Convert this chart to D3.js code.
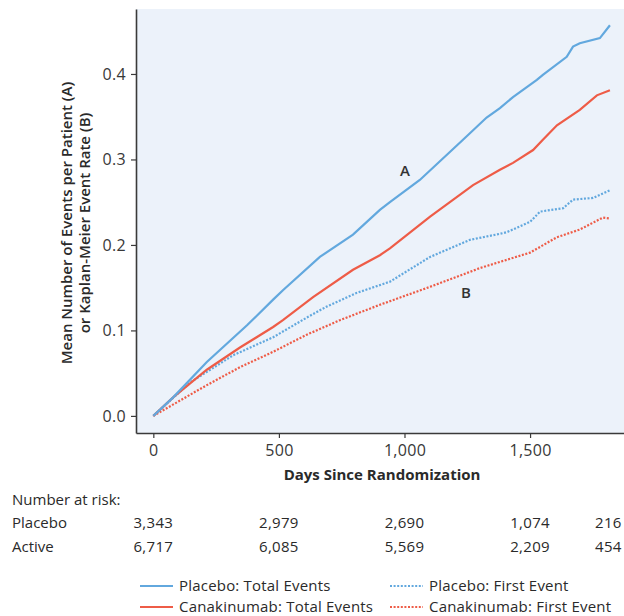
<!DOCTYPE html>
<html>
<head>
<meta charset="utf-8">
<script src="https://cdn.jsdelivr.net/npm/d3@7"></script>
<style>
  body { margin: 0; background: #fff; }
  svg { font-family: "Open Sans", "Noto Sans", sans-serif; }
</style>
</head>
<body>
<svg id="chart" width="624" height="616"></svg>
<script>
// days since randomization / value
const placeboTotal = [
  [0, 0], [80, 0.022], [213, 0.063], [373, 0.106], [477, 0.136], [516, 0.147],
  [663, 0.186], [795, 0.212], [902, 0.241], [942, 0.250], [1061, 0.276],
  [1233, 0.323], [1327, 0.349], [1380, 0.360], [1432, 0.373], [1527, 0.393],
  [1551, 0.399], [1646, 0.420], [1671, 0.432], [1698, 0.436], [1778, 0.442],
  [1818, 0.457]
];
const activeTotal = [
  [0, 0], [80, 0.022], [213, 0.054], [345, 0.080], [477, 0.104], [516, 0.112],
  [636, 0.139], [795, 0.171], [902, 0.188], [942, 0.196], [1102, 0.233],
  [1273, 0.270], [1380, 0.288], [1432, 0.296], [1512, 0.311], [1551, 0.323],
  [1607, 0.340], [1698, 0.358], [1766, 0.375], [1818, 0.381]
];
const placeboFirst = [
  [0, 0], [146, 0.039], [318, 0.071], [477, 0.092], [611, 0.115], [691, 0.128],
  [811, 0.144], [942, 0.157], [1102, 0.186], [1261, 0.206], [1380, 0.213],
  [1408, 0.215], [1500, 0.227], [1540, 0.239], [1632, 0.243], [1671, 0.253],
  [1751, 0.255], [1818, 0.264]
];
const activeFirst = [
  [0, 0], [213, 0.036], [345, 0.057], [477, 0.075], [611, 0.095], [743, 0.112],
  [902, 0.130], [1102, 0.151], [1301, 0.173], [1500, 0.191], [1607, 0.209],
  [1698, 0.218], [1790, 0.232], [1818, 0.231]
];

const xTicks = [0, 500, 1000, 1500];
const yTicks = [0, 0.1, 0.2, 0.3, 0.4];

const riskDays = [0, 500, 1000, 1500, 1812];
const riskPlacebo = ['3,343', '2,979', '2,690', '1,074', '216'];
const riskActive = ['6,717', '6,085', '5,569', '2,209', '454'];

const blue = '#62a8de';
const red = '#ee5c47';
const ink = '#2a2a2a';

const svg = d3.select('#chart');

const x = d3.scaleLinear().domain([-69, 1874]).range([136, 624]);
const y = d3.scaleLinear().domain([-0.02, 0.476]).range([433, 9]);

// plot background
svg.append('rect')
  .attr('x', 136).attr('y', 9)
  .attr('width', 624 - 136).attr('height', 433 - 9)
  .attr('fill', '#ecf2fa');

const xAxis = svg.append('g')
  .attr('transform', 'translate(0,433)')
  .call(d3.axisBottom(x).tickValues(xTicks).tickSize(5).tickSizeOuter(0).tickPadding(7)
    .tickFormat(d3.format(',')));
const yAxis = svg.append('g')
  .attr('transform', 'translate(136,0)')
  .call(d3.axisLeft(y).tickValues(yTicks).tickSize(5).tickSizeOuter(0).tickPadding(5)
    .tickFormat(d3.format('.1f')));

[xAxis, yAxis].forEach(a => {
  a.select('.domain').attr('stroke', '#3a3a3a').attr('stroke-width', 1.6);
  a.selectAll('.tick line').attr('stroke', '#3a3a3a').attr('stroke-width', 1.2);
  a.selectAll('.tick text')
    .attr('fill', '#383838')
    .style('font-size', '16px')
    .style('letter-spacing', '0.3px')
    .style('font-family', '"Open Sans", "Noto Sans", sans-serif');
});

const line = d3.line().x(d => x(d[0])).y(d => y(d[1]));

const series = [
  { data: placeboFirst, color: blue, dash: '2,1.6' },
  { data: activeFirst, color: red, dash: '2,1.6' },
  { data: activeTotal, color: red, dash: null },
  { data: placeboTotal, color: blue, dash: null }
];
series.forEach(s => {
  svg.append('path')
    .datum(s.data)
    .attr('d', line)
    .attr('fill', 'none')
    .attr('stroke', s.color)
    .attr('stroke-width', 2.2)
    .attr('stroke-dasharray', s.dash);
});

// curve labels
svg.append('text').attr('x', 405).attr('y', 176).attr('text-anchor', 'middle')
  .attr('fill', '#333').style('font-size', '15px').style('font-weight', 600).text('A');
svg.append('text').attr('x', 466).attr('y', 298).attr('text-anchor', 'middle')
  .attr('fill', '#333').style('font-size', '15px').style('font-weight', 600).text('B');

// axis titles
svg.append('text')
  .attr('x', 382).attr('y', 480)
  .attr('text-anchor', 'middle')
  .attr('fill', ink)
  .style('font-size', '15px').style('font-weight', 700)
  .text('Days Since Randomization');

const yTitle = svg.append('text')
  .attr('transform', 'translate(0,223) rotate(-90)')
  .attr('text-anchor', 'middle')
  .attr('fill', ink)
  .style('font-size', '15px').style('font-weight', 600);
yTitle.append('tspan').attr('x', 0).attr('y', 72).text('Mean Number of Events per Patient (A)');
yTitle.append('tspan').attr('x', 0).attr('y', 90).text('or Kaplan-Meier Event Rate (B)');

// number at risk
svg.append('text').attr('x', 12).attr('y', 505)
  .attr('fill', ink).style('font-size', '15px').text('Number at risk:');
[['Placebo', riskPlacebo, 528], ['Active', riskActive, 552]].forEach(([name, vals, ty]) => {
  svg.append('text').attr('x', 12).attr('y', ty)
    .attr('fill', ink).style('font-size', '15px').text(name);
  svg.selectAll(null).data(vals).enter().append('text')
    .attr('x', (d, i) => x(riskDays[i]))
    .attr('y', ty)
    .attr('text-anchor', 'middle')
    .attr('fill', ink).style('font-size', '15px').style('letter-spacing', '0.3px')
    .text(d => d);
});

// legend
const legendItems = [
  { label: 'Placebo: Total Events', color: blue, dash: null, lx: 140, ly: 586 },
  { label: 'Placebo: First Event', color: blue, dash: '2,1.6', lx: 390, ly: 586 },
  { label: 'Canakinumab: Total Events', color: red, dash: null, lx: 140, ly: 607 },
  { label: 'Canakinumab: First Event', color: red, dash: '2,1.6', lx: 390, ly: 607 }
];
legendItems.forEach(it => {
  svg.append('line')
    .attr('x1', it.lx).attr('x2', it.lx + 33)
    .attr('y1', it.ly).attr('y2', it.ly)
    .attr('stroke', it.color).attr('stroke-width', 2)
    .attr('stroke-dasharray', it.dash);
  svg.append('text')
    .attr('x', it.lx + 39).attr('y', it.ly + 5)
    .attr('fill', ink).style('font-size', '15px').style('letter-spacing', '0.2px')
    .text(it.label);
});
</script>
</body>
</html>
